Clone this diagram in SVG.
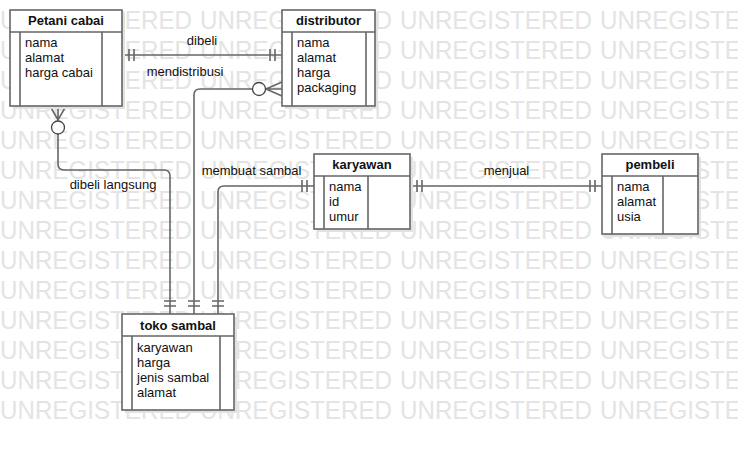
<svg xmlns="http://www.w3.org/2000/svg" xmlns:xlink="http://www.w3.org/1999/xlink" width="738" height="450" viewBox="0 0 738 450">
<style>
.wm{font-family:"Liberation Sans",Arial,sans-serif;font-size:25px;fill:#e4e4e4}
.box{fill:#fff;stroke:#666;stroke-width:1.6}
.shadow{fill:#e2e2e2}
.ln{fill:none;stroke:#666;stroke-width:1.6}
.circ{fill:#fff;stroke:#444;stroke-width:1.3}
.title{font-family:"Liberation Sans",Arial,sans-serif;font-size:13px;font-weight:bold;fill:#111;text-anchor:middle}
.attr{font-family:"Liberation Sans",Arial,sans-serif;font-size:13px;fill:#111}
.lbl{font-family:"Liberation Sans",Arial,sans-serif;font-size:13px;fill:#111;text-anchor:middle}
</style>
<defs>
<g id="row">
<text class="wm" x="0" y="0" textLength="192" lengthAdjust="spacingAndGlyphs">UNREGISTERED</text>
<text class="wm" x="200" y="0" textLength="192" lengthAdjust="spacingAndGlyphs">UNREGISTERED</text>
<text class="wm" x="400" y="0" textLength="192" lengthAdjust="spacingAndGlyphs">UNREGISTERED</text>
<text class="wm" x="600" y="0" textLength="192" lengthAdjust="spacingAndGlyphs">UNREGISTERED</text>
</g>
</defs>
<rect width="738" height="450" fill="#fff"/>
<g id="watermark">
<use xlink:href="#row" href="#row" y="29"/>
<use xlink:href="#row" href="#row" y="59"/>
<use xlink:href="#row" href="#row" y="89"/>
<use xlink:href="#row" href="#row" y="119"/>
<use xlink:href="#row" href="#row" y="149"/>
<use xlink:href="#row" href="#row" y="179"/>
<use xlink:href="#row" href="#row" y="209"/>
<use xlink:href="#row" href="#row" y="239"/>
<use xlink:href="#row" href="#row" y="269"/>
<use xlink:href="#row" href="#row" y="299"/>
<use xlink:href="#row" href="#row" y="329"/>
<use xlink:href="#row" href="#row" y="359"/>
<use xlink:href="#row" href="#row" y="389"/>
<use xlink:href="#row" href="#row" y="419"/>
</g>

<g id="connectors">
<!-- dibeli -->
<g id="c-dibeli">
<path class="ln" d="M122,55 L282,55 M129,49 L129,61 M134,49 L134,61 M270,49 L270,61 M275,49 L275,61"/>
<text class="lbl" x="202" y="44.5">dibeli</text>
</g>
<!-- mendistribusi -->
<g id="c-mendistribusi">
<path class="ln" d="M282,89 L266,89 M282,82 L266,89 L282,96 M252.5,89 L200,89 Q194,89 194,95 L194,314 M188,301 L200,301 M188,306 L200,306"/>
<circle class="circ" cx="259" cy="89" r="6.5"/>
<text class="lbl" x="185" y="76">mendistribusi</text>
</g>
<!-- dibeli langsung -->
<g id="c-dibeli-langsung">
<path class="ln" d="M58,106 L58,121 M50,106 L58,120 L66,106 M58,134 L58,164 Q58,170 64,170 L164,170 Q170,170 170,176 L170,314 M164,301 L176,301 M164,306 L176,306"/>
<circle class="circ" cx="58" cy="127.5" r="6.5"/>
<text class="lbl" x="113" y="189">dibeli langsung</text>
</g>
<!-- membuat sambal -->
<g id="c-membuat-sambal">
<path class="ln" d="M314,186 L224,186 Q218,186 218,192 L218,314 M302,180 L302,192 M307,180 L307,192 M212,301 L224,301 M212,306 L224,306"/>
<text class="lbl" x="251.5" y="175">membuat sambal</text>
</g>
<!-- menjual -->
<g id="c-menjual">
<path class="ln" d="M410,186 L602,186 M417,180 L417,192 M422,180 L422,192 M590,180 L590,192 M595,180 L595,192"/>
<text class="lbl" x="506.5" y="174.5">menjual</text>
</g>
</g>

<g id="petani-cabai">
<rect class="shadow" x="13" y="13" width="112" height="96"/>
<rect class="box" x="10" y="10" width="112" height="96"/>
<path class="ln" d="M10,32 L122,32 M20,32 L20,106 M102,32 L102,106"/>
<text class="title" x="66" y="25">Petani cabai</text>
<text class="attr" x="25" y="47">nama</text>
<text class="attr" x="25" y="62">alamat</text>
<text class="attr" x="25" y="77">harga cabai</text>
</g>

<g id="distributor">
<rect class="shadow" x="285" y="13" width="93" height="96"/>
<rect class="box" x="282" y="10" width="93" height="96"/>
<path class="ln" d="M282,32 L375,32 M292,32 L292,106 M366,32 L366,106"/>
<text class="title" x="328.5" y="25">distributor</text>
<text class="attr" x="297" y="47">nama</text>
<text class="attr" x="297" y="62">alamat</text>
<text class="attr" x="297" y="77">harga</text>
<text class="attr" x="297" y="92">packaging</text>
</g>

<g id="karyawan">
<rect class="shadow" x="317" y="157" width="96" height="75"/>
<rect class="box" x="314" y="154" width="96" height="75"/>
<path class="ln" d="M314,176 L410,176 M324,176 L324,229 M368,176 L368,229"/>
<text class="title" x="362" y="169">karyawan</text>
<text class="attr" x="329" y="191">nama</text>
<text class="attr" x="329" y="206">id</text>
<text class="attr" x="329" y="221">umur</text>
</g>

<g id="pembeli">
<rect class="shadow" x="605" y="157" width="96" height="80"/>
<rect class="box" x="602" y="154" width="96" height="80"/>
<path class="ln" d="M602,176 L698,176 M612,176 L612,234 M663,176 L663,234"/>
<text class="title" x="650" y="169">pembeli</text>
<text class="attr" x="617" y="191">nama</text>
<text class="attr" x="617" y="206">alamat</text>
<text class="attr" x="617" y="221">usia</text>
</g>

<g id="toko-sambal">
<rect class="shadow" x="125" y="317" width="112" height="96"/>
<rect class="box" x="122" y="314" width="112" height="96"/>
<path class="ln" d="M122,336 L234,336 M132,336 L132,410 M220,336 L220,410"/>
<text class="title" x="178" y="329.5">toko sambal</text>
<text class="attr" x="137" y="352">karyawan</text>
<text class="attr" x="137" y="367">harga</text>
<text class="attr" x="137" y="382">jenis sambal</text>
<text class="attr" x="137" y="397">alamat</text>
</g>
</svg>
